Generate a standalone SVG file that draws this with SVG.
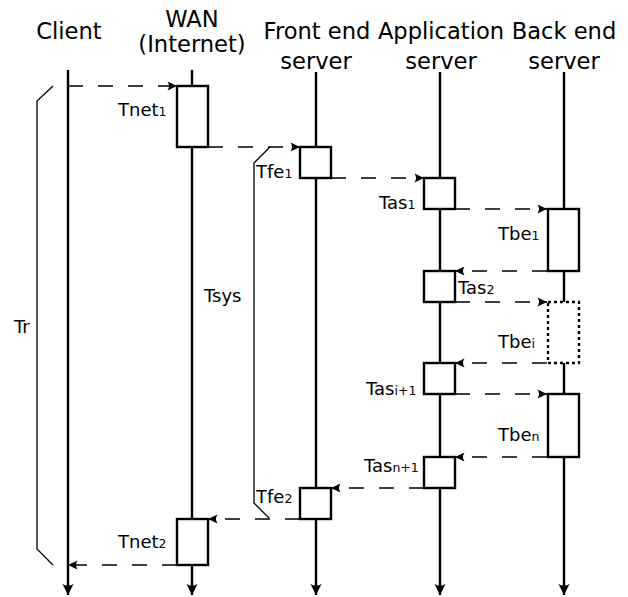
<svg xmlns="http://www.w3.org/2000/svg" width="628" height="597" viewBox="0 0 628 597">
<style>
text { font-family: "DejaVu Sans", "Liberation Sans", sans-serif; fill: #000; }
.hdr { font-size: 22.6px; text-anchor: middle; }
.lbl { font-size: 18px; }
.sub { font-size: 12.5px; }
.life { stroke: #000; stroke-width: 2.4; fill: none; marker-end: url(#lifeArrow); }
.box { stroke: #000; stroke-width: 2.4; fill: #fff; }
.dotbox { stroke: #000; stroke-width: 2.4; fill: #fff; stroke-dasharray: 3,3; }
.msg { stroke: #000; stroke-width: 1.6; fill: none; stroke-dasharray: 15,15; marker-end: url(#msgArrow); }
.brk { stroke: #000; stroke-width: 1.3; fill: none; }
</style>
<defs>
<marker id="msgArrow" markerUnits="userSpaceOnUse" markerWidth="12" markerHeight="12" viewBox="-10 -6 12 12" refX="0" refY="0" orient="auto">
<path d="M0,0 L-9.5,-4.6 Q-6.5,0 -9.5,4.6 Z" fill="#000"/>
</marker>
<marker id="lifeArrow" markerUnits="userSpaceOnUse" markerWidth="14" markerHeight="14" viewBox="-12 -7 14 14" refX="0" refY="0" orient="auto">
<path d="M0,0 L-11,-5.5 Q-7.5,0 -11,5.5 Z" fill="#000"/>
</marker>
</defs>

<g id="headers">
<text class="hdr" x="69" y="39">Client</text>
<text class="hdr" x="192" y="27">WAN</text>
<text class="hdr" x="192" y="52">(Internet)</text>
<text class="hdr" x="317" y="39">Front end</text>
<text class="hdr" x="316" y="69">server</text>
<text class="hdr" x="441" y="39">Application</text>
<text class="hdr" x="441" y="69">server</text>
<text class="hdr" x="564" y="39">Back end</text>
<text class="hdr" x="564" y="69">server</text>
</g>

<g id="lifelines">
<line id="life-client" class="life" x1="68" y1="70" x2="68" y2="595"/>
<line id="life-wan" class="life" x1="192" y1="70" x2="192" y2="595"/>
<line id="life-front" class="life" x1="316" y1="72" x2="316" y2="595"/>
<line id="life-app" class="life" x1="440" y1="72" x2="440" y2="595"/>
<line id="life-back" class="life" x1="564" y1="72" x2="564" y2="595"/>
</g>

<g id="brackets">
<path id="bracket-tr" class="brk" d="M53,86 L37,101 L37,549 L53,565"/>
<path id="bracket-tsys" class="brk" d="M270,147 L254,163 L254,503 L269,518"/>
</g>

<g id="connectors">
<line class="msg" x1="68" y1="86" x2="177" y2="86"/>
<line class="msg" x1="208" y1="147" x2="300" y2="147"/>
<line class="msg" x1="331" y1="178" x2="424" y2="178"/>
<line class="msg" x1="455" y1="209" x2="547" y2="209"/>
<line class="msg" x1="547" y1="271" x2="455" y2="271"/>
<line class="msg" x1="455" y1="302" x2="547" y2="302"/>
<line class="msg" x1="547" y1="363" x2="455" y2="363"/>
<line class="msg" x1="455" y1="394" x2="547" y2="394"/>
<line class="msg" x1="547" y1="457" x2="455" y2="457"/>
<line class="msg" x1="424" y1="488" x2="331" y2="488"/>
<line class="msg" x1="300" y1="519" x2="208" y2="519"/>
<line class="msg" x1="177" y1="565" x2="68" y2="565"/>
</g>

<g id="wan-box1"><rect class="box" x="177" y="86" width="31" height="61"/></g>
<g id="front-box1"><rect class="box" x="300" y="147" width="31" height="31"/></g>
<g id="app-box1"><rect class="box" x="424" y="178" width="31" height="31"/></g>
<g id="back-box1"><rect class="box" x="548" y="209" width="31" height="62"/></g>
<g id="app-box2"><rect class="box" x="424" y="271" width="31" height="31"/></g>
<g id="back-boxi"><rect class="dotbox" x="548" y="302" width="31" height="61"/></g>
<g id="app-boxi1"><rect class="box" x="424" y="363" width="31" height="31"/></g>
<g id="back-boxn"><rect class="box" x="548" y="394" width="31" height="63"/></g>
<g id="app-boxn1"><rect class="box" x="424" y="457" width="31" height="31"/></g>
<g id="front-box2"><rect class="box" x="300" y="488" width="31" height="31"/></g>
<g id="wan-box2"><rect class="box" x="177" y="519" width="31" height="46"/></g>

<g id="labels">
<text class="lbl" x="118" y="116">Tnet<tspan class="sub">1</tspan></text>
<text class="lbl" x="256" y="178">Tfe<tspan class="sub">1</tspan></text>
<text class="lbl" x="379" y="209">Tas<tspan class="sub">1</tspan></text>
<text class="lbl" x="498" y="240">Tbe<tspan class="sub">1</tspan></text>
<text class="lbl" x="458" y="294">Tas<tspan class="sub">2</tspan></text>
<text class="lbl" x="498" y="348">Tbe<tspan class="sub">i</tspan></text>
<text class="lbl" x="366" y="395">Tas<tspan class="sub">i+1</tspan></text>
<text class="lbl" x="498" y="441">Tbe<tspan class="sub">n</tspan></text>
<text class="lbl" x="364" y="472">Tas<tspan class="sub">n+1</tspan></text>
<text class="lbl" x="256" y="503">Tfe<tspan class="sub">2</tspan></text>
<text class="lbl" x="118" y="548">Tnet<tspan class="sub">2</tspan></text>
<text class="lbl" x="204" y="302">Tsys</text>
<text class="lbl" x="14" y="333">Tr</text>
</g>
</svg>
